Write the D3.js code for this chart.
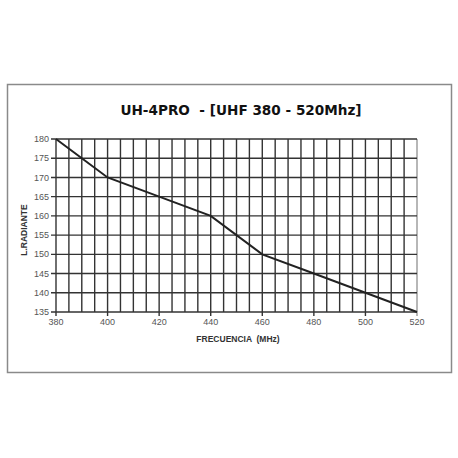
<!DOCTYPE html>
<html>
<head>
<meta charset="utf-8">
<script src="https://cdn.jsdelivr.net/npm/d3@7"></script>
<style>
  body { margin: 0; background: #fff; }
</style>
</head>
<body>
<div class="wrapper"></div>
<script>
const WIDTH = 458
const HEIGHT = 458
const margin = {left: 56, right: 41, top: 139, bottom: 146}

var title = 'UH-4PRO  - [UHF 380 - 520Mhz]'
var xLabel = 'FRECUENCIA  (MHz)'
var yLabel = 'L.RADIANTE'

var freq = [380, 390, 400, 420, 440, 460, 480, 500, 520]
var radiante = [180, 175, 170, 165, 160, 150, 145, 140, 135]
var xTicks = [380, 400, 420, 440, 460, 480, 500, 520]
var yTicks = [135, 140, 145, 150, 155, 160, 165, 170, 175, 180]
var xGrid = d3.range(380, 521, 5)

var svg = d3.select(".wrapper")
    .append("svg")
    .attr("width", WIDTH)
    .attr("height", HEIGHT)

// outer frame
svg.append("rect")
    .attr("x", 7.5)
    .attr("y", 84.5)
    .attr("width", 444)
    .attr("height", 288)
    .attr("fill", "none")
    .attr("stroke", "#8a8a8a")
    .attr("stroke-width", 1.5)

svg.append("text")
    .attr("x", 241)
    .attr("y", 115)
    .attr("text-anchor", "middle")
    .style("font-family", "DejaVu Sans")
    .style("font-weight", "bold")
    .style("font-size", "13.6px")
    .attr("fill", "#111")
    .attr("xml:space", "preserve")
    .text(title)

var x = d3.scaleLinear([380, 520], [margin.left, WIDTH - margin.right])
var y = d3.scaleLinear([135, 180], [HEIGHT - margin.bottom, margin.top])

// grid
svg.append("g")
    .selectAll("line")
    .data(xGrid)
    .join("line")
    .attr("x1", d => x(d))
    .attr("x2", d => x(d))
    .attr("y1", y(180))
    .attr("y2", d => y(135) + (xTicks.includes(d) ? 4 : 0))
    .attr("stroke", d => d == 520 ? "#999" : "#333")
    .attr("stroke-width", 1.4)

svg.append("g")
    .selectAll("line")
    .data(yTicks)
    .join("line")
    .attr("x1", x(380) - 5)
    .attr("x2", x(520))
    .attr("y1", d => y(d))
    .attr("y2", d => y(d))
    .attr("stroke", "#333")
    .attr("stroke-width", 1.4)

// tick labels
svg.append("g")
    .selectAll("text")
    .data(xTicks)
    .join("text")
    .attr("x", d => x(d))
    .attr("y", y(135) + 13)
    .attr("text-anchor", "middle")
    .style("font-family", "Liberation Sans")
    .style("font-size", "9px")
    .attr("fill", "#555")
    .text(d => d)

svg.append("g")
    .selectAll("text")
    .data(yTicks)
    .join("text")
    .attr("x", x(380) - 7)
    .attr("y", d => y(d))
    .attr("dy", "0.35em")
    .attr("text-anchor", "end")
    .style("font-family", "Liberation Sans")
    .style("font-size", "9px")
    .attr("fill", "#555")
    .text(d => d)

// axis titles
svg.append("text")
    .attr("x", 238)
    .attr("y", 342)
    .attr("text-anchor", "middle")
    .style("font-family", "Liberation Sans")
    .style("font-weight", "bold")
    .style("font-size", "8.5px")
    .attr("fill", "#333")
    .attr("xml:space", "preserve")
    .text(xLabel)

svg.append("text")
    .attr("transform", "translate(27,230) rotate(-90)")
    .attr("text-anchor", "middle")
    .style("font-family", "Liberation Sans")
    .style("font-weight", "bold")
    .style("font-size", "8.5px")
    .attr("fill", "#333")
    .text(yLabel)

// curve
var line = d3.line()
    .x((d, i) => x(freq[i]))
    .y(d => y(d))

svg.append("path")
    .datum(radiante)
    .attr("d", line)
    .attr("fill", "none")
    .attr("stroke", "#222")
    .attr("stroke-width", 2)
</script>
</body>
</html>
